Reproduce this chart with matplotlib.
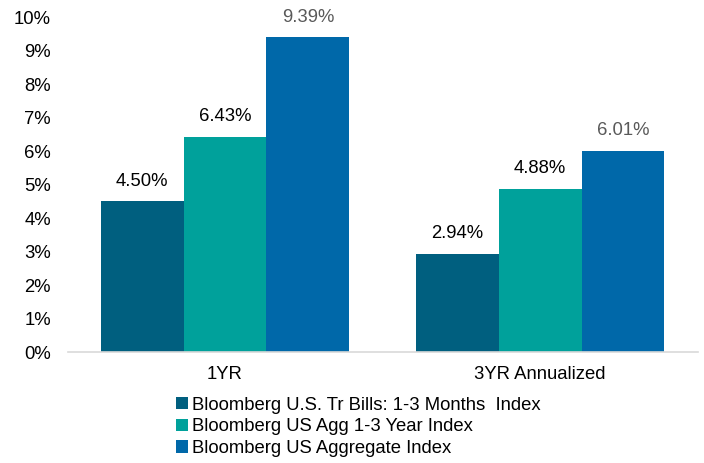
import numpy as np
import matplotlib.pyplot as plt

plt.rcParams['font.family'] = ['Liberation Sans', 'DejaVu Sans']

categories = ['1YR', '3YR Annualized']
series_names = ['Bloomberg U.S. Tr Bills: 1-3 Months  Index',
                'Bloomberg US Agg 1-3 Year Index',
                'Bloomberg US Aggregate Index']
values = [[4.50, 2.94],
          [6.43, 4.88],
          [9.39, 6.01]]
colors = ['#005F7F', '#00A19B', '#0068A9']
label_colors = [['#000000', '#000000'],
                ['#000000', '#000000'],
                ['#595959', '#595959']]

fig = plt.figure(figsize=(7.04, 4.63), dpi=100)
ax = fig.add_axes([0.0959, 0.2397, 0.895, 0.7235])

x = np.arange(len(categories))
width = 0.263
for i, (name, vals) in enumerate(zip(series_names, values)):
    pos = x + (i - 1) * width
    ax.bar(pos, vals, width, color=colors[i], label=name)
    for p, v, c in zip(pos, vals, label_colors[i]):
        ax.annotate(f'{v:.2f}%', (p, v), xytext=(0, 11), textcoords='offset points',
                    ha='center', va='baseline', fontsize=13.3, color=c)

ax.set_xlim(-0.5, 1.5)
ax.set_ylim(0, 10)
ax.set_yticks(range(0, 11))
ax.set_yticklabels([f'{t}%' for t in range(0, 11)])
ax.set_xticks(x)
ax.set_xticklabels(categories)
ax.tick_params(axis='both', length=0, labelsize=13.3, colors='#000000')
ax.tick_params(axis='x', pad=10)
ax.tick_params(axis='y', pad=12)
for s in ['top', 'right', 'left']:
    ax.spines[s].set_visible(False)
ax.spines['bottom'].set_color('#D9D9D9')
ax.spines['bottom'].set_linewidth(1.2)

fig.legend(loc='upper left', bbox_to_anchor=(0.25, 0.143), frameon=False,
           fontsize=13.3, handlelength=0.65, handleheight=0.65,
           handletextpad=0.2, labelspacing=0.25, borderpad=0, borderaxespad=0)

fig.savefig('out.png', dpi=100)
